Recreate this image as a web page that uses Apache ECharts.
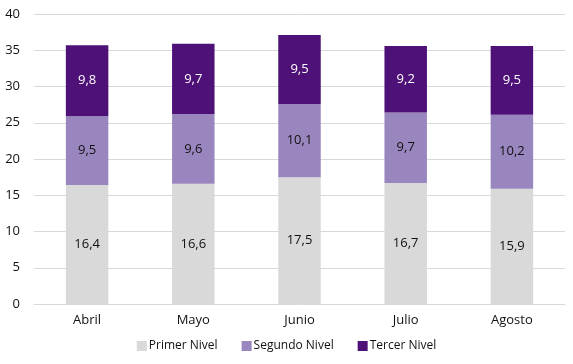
<!DOCTYPE html>
<html>
<head>
<meta charset="utf-8">
<script src="https://cdn.jsdelivr.net/npm/echarts@6/dist/echarts.min.js"></script>
<style>
  html, body { margin: 0; padding: 0; background: #fff; }
  #chart { width: 573px; height: 364px; }
</style>
</head>
<body>
<div id="chart"></div>
<script>
const categories = ['Abril', 'Mayo', 'Junio', 'Julio', 'Agosto']
const primerNivel = [16.4, 16.6, 17.5, 16.7, 15.9]
const segundoNivel = [9.5, 9.6, 10.1, 9.7, 10.2]
const tercerNivel = [9.8, 9.7, 9.5, 9.2, 9.5]
const yTicks = { min: 0, max: 40, interval: 5 }

const fontFamily = '"Open Sans", "Liberation Sans", sans-serif'
const fmt = p => String(p.value).replace('.', ',')

function mkSeries(name, data, color, labelColor) {
  return {
    name: name,
    type: 'bar',
    stack: 'total',
    barWidth: '40%',
    data: data,
    itemStyle: { color: color },
    label: {
      show: true,
      position: 'inside',
      formatter: fmt,
      color: labelColor,
      fontSize: 13,
      fontFamily: fontFamily
    }
  }
}

const chart = echarts.init(document.getElementById('chart'))
chart.setOption({
  animation: false,
  textStyle: { fontFamily: fontFamily },
  grid: { left: 34, right: 8, top: 14, bottom: 60, containLabel: false },
  legend: {
    bottom: 7,
    itemWidth: 10,
    itemHeight: 10,
    itemGap: 24,
    icon: 'rect',
    textStyle: { fontSize: 12, color: '#111', padding: [0, 0, 0, -3] },
    data: ['Primer Nivel', 'Segundo Nivel', 'Tercer Nivel']
  },
  xAxis: {
    type: 'category',
    data: categories,
    axisLine: { lineStyle: { color: '#d9d9d9' } },
    axisTick: { show: false },
    axisLabel: { color: '#111', fontSize: 13, margin: 10 }
  },
  yAxis: {
    type: 'value',
    min: yTicks.min,
    max: yTicks.max,
    interval: yTicks.interval,
    axisLine: { show: false },
    axisTick: { show: false },
    axisLabel: { color: '#111', fontSize: 13, margin: 14 },
    splitLine: { lineStyle: { color: '#d9d9d9' } }
  },
  series: [
    mkSeries('Primer Nivel', primerNivel, '#d9d9d9', '#111'),
    mkSeries('Segundo Nivel', segundoNivel, '#9a86bf', '#111'),
    mkSeries('Tercer Nivel', tercerNivel, '#4e1177', '#fff')
  ]
})
</script>
</body>
</html>
